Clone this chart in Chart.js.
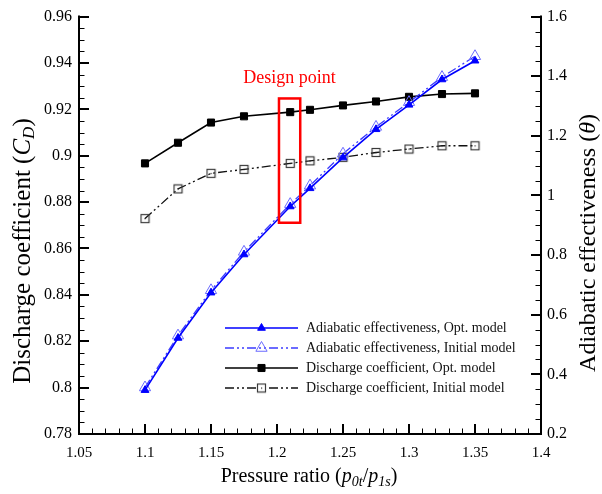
<!DOCTYPE html>
<html>
<head>
<meta charset="utf-8">
<script src="https://cdn.jsdelivr.net/npm/chart.js@4.4.0/dist/chart.umd.min.js"></script>
<style>
  html, body { margin: 0; padding: 0; background: #fff; }
</style>
</head>
<body>
<canvas id="chart" width="602" height="494"></canvas>
<script>
// data
const pressureRatio = [1.1, 1.125, 1.15, 1.175, 1.21, 1.225, 1.25, 1.275, 1.3, 1.325, 1.35];
const effOpt      = [0.347, 0.522, 0.674, 0.802, 0.963, 1.024, 1.127, 1.222, 1.304, 1.389, 1.452];
const effInitial  = [0.356, 0.530, 0.682, 0.811, 0.971, 1.033, 1.140, 1.230, 1.313, 1.397, 1.467];
const cdOpt       = [0.8967, 0.9056, 0.9143, 0.9170, 0.9188, 0.9198, 0.9217, 0.9234, 0.9254, 0.9266, 0.9269];
const cdInitial   = [0.8729, 0.8857, 0.8924, 0.8941, 0.8967, 0.8978, 0.8993, 0.9014, 0.9029, 0.9043, 0.9043];

const xTickValues  = [1.05, 1.1, 1.15, 1.2, 1.25, 1.3, 1.35, 1.4];
const cdTickValues = [0.78, 0.8, 0.82, 0.84, 0.86, 0.88, 0.9, 0.92, 0.94, 0.96];
const effTickValues = [0.2, 0.4, 0.6, 0.8, 1, 1.2, 1.4, 1.6];

const designPoint = { x0: 1.2015, x1: 1.2176, y0: 0.8711, y1: 0.9247, label: 'Design point' };

const SERIF = '"Liberation Serif", "DejaVu Serif", serif';
const dashDotDot = [9, 3, 2, 3, 2, 3];

function fmt(v) { return String(parseFloat(v.toFixed(3))); }
function pts(ys) { return pressureRatio.map((x, i) => ({ x: x, y: ys[i] })); }

// open square with a dot in the middle (Tecplot style)
function openSquare() {
  const c = document.createElement('canvas');
  c.width = 11; c.height = 11;
  const g = c.getContext('2d');
  g.strokeStyle = '#3a3a3a';
  g.lineWidth = 1.2;
  g.strokeRect(1.5, 1.5, 8, 8);
  g.fillStyle = '#222';
  g.fillRect(5, 5, 1.2, 1.2);
  return c;
}
const sqMarker = openSquare();

const datasets = [
  {
    label: 'Adiabatic effectiveness, Opt. model',
    data: pts(effOpt), yAxisID: 'y1',
    borderColor: '#0000ff', borderWidth: 1.6,
    pointStyle: 'triangle', pointRadius: 4.5,
    pointBackgroundColor: '#0000ff', pointBorderColor: '#0000ff', pointBorderWidth: 1
  },
  {
    label: 'Adiabatic effectiveness, Initial model',
    data: pts(effInitial), yAxisID: 'y1',
    borderColor: '#3b3bff', borderWidth: 1.3, borderDash: dashDotDot,
    pointStyle: 'triangle', pointRadius: 6.5,
    pointBackgroundColor: 'rgba(0,0,0,0)', pointBorderColor: '#6b6bff', pointBorderWidth: 1
  },
  {
    label: 'Discharge coefficient, Opt. model',
    data: pts(cdOpt), yAxisID: 'y',
    borderColor: '#000', borderWidth: 1.6,
    pointStyle: 'rect', pointRadius: 5,
    pointBackgroundColor: '#000', pointBorderColor: '#000', pointBorderWidth: 1
  },
  {
    label: 'Discharge coefficient, Initial model',
    data: pts(cdInitial), yAxisID: 'y',
    borderColor: '#111', borderWidth: 1.3, borderDash: dashDotDot,
    pointStyle: sqMarker, pointRadius: 5.5
  }
];

// axis lines with inward major and minor ticks
const axesPlugin = {
  id: 'axesFrame',
  afterDatasetsDraw(chart) {
    const { ctx, chartArea: a, scales } = chart;
    ctx.save();
    ctx.strokeStyle = '#000';
    ctx.lineCap = 'square';
    ctx.lineWidth = 2;
    ctx.beginPath();
    ctx.moveTo(a.left, a.top);
    ctx.lineTo(a.left, a.bottom);
    ctx.lineTo(a.right, a.bottom);
    ctx.lineTo(a.right, a.top);
    ctx.stroke();

    function ticks(scale, from, to, step, major, side) {
      const n = Math.round((to - from) / step);
      for (let i = 0; i <= n; i++) {
        const v = from + i * step;
        const isMajor = major.some(m => Math.abs(m - v) < step / 10);
        const len = isMajor ? 9 : 5;
        ctx.lineWidth = isMajor ? 2 : 1;
        const p = Math.round(scale.getPixelForValue(v)) + (isMajor ? 0 : 0.5);
        ctx.beginPath();
        if (side === 'bottom') { ctx.moveTo(p, a.bottom); ctx.lineTo(p, a.bottom - len); }
        if (side === 'left') { ctx.moveTo(a.left, p); ctx.lineTo(a.left + len, p); }
        if (side === 'right') { ctx.moveTo(a.right, p); ctx.lineTo(a.right - len, p); }
        ctx.stroke();
      }
    }
    ticks(scales.x, 1.05, 1.4, 0.01, xTickValues, 'bottom');
    ticks(scales.y, 0.78, 0.96, 0.005, cdTickValues, 'left');
    ticks(scales.y1, 0.2, 1.6, 0.05, effTickValues, 'right');

    // design point box
    const x0 = scales.x.getPixelForValue(designPoint.x0);
    const x1 = scales.x.getPixelForValue(designPoint.x1);
    const y0 = scales.y.getPixelForValue(designPoint.y0);
    const y1 = scales.y.getPixelForValue(designPoint.y1);
    ctx.strokeStyle = '#ff0000';
    ctx.lineWidth = 2.5;
    ctx.strokeRect(x0, y1, x1 - x0, y0 - y1);
    ctx.fillStyle = '#ff0000';
    ctx.font = '18px ' + SERIF;
    ctx.textAlign = 'center';
    ctx.textBaseline = 'alphabetic';
    ctx.fillText(designPoint.label, (x0 + x1) / 2, y1 - 15);
    ctx.restore();
  }
};

// legend drawn inside the plot
const legendPlugin = {
  id: 'innerLegend',
  afterDatasetsDraw(chart) {
    const { ctx } = chart;
    const lx0 = 225, lx1 = 298, tx = 306, top = 328, gap = 20;
    ctx.save();
    chart.data.datasets.forEach((ds, i) => {
      const y = top + i * gap;
      ctx.strokeStyle = ds.borderColor;
      ctx.lineWidth = ds.borderWidth;
      ctx.setLineDash(ds.borderDash || []);
      ctx.beginPath();
      ctx.moveTo(lx0, y);
      ctx.lineTo(lx1, y);
      ctx.stroke();
      ctx.setLineDash([]);
      ctx.fillStyle = ds.pointBackgroundColor || '#fff';
      ctx.strokeStyle = ds.pointBorderColor || '#000';
      ctx.lineWidth = ds.pointBorderWidth || 1;
      if (ds.pointStyle !== sqMarker) {
        Chart.helpers.drawPoint(ctx, { pointStyle: ds.pointStyle, radius: ds.pointRadius, rotation: 0, borderWidth: ctx.lineWidth }, (lx0 + lx1) / 2, y);
      } else {
        ctx.fillStyle = '#fff';
        ctx.fillRect((lx0 + lx1) / 2 - 5, y - 5, 10, 10);
        ctx.drawImage(sqMarker, (lx0 + lx1) / 2 - 5.5, y - 5.5);
      }
      ctx.fillStyle = '#111';
      ctx.font = '14px ' + SERIF;
      ctx.textAlign = 'left';
      ctx.textBaseline = 'middle';
      ctx.fillText(ds.label, tx, y);
    });
    ctx.restore();
  }
};

// axis titles with italic symbols and subscripts
function drawRich(ctx, parts, cx, cy, angle, size) {
  ctx.save();
  ctx.translate(cx, cy);
  ctx.rotate(angle);
  const subSize = Math.round(size * 0.68);
  let total = 0;
  parts.forEach(p => {
    ctx.font = (p.i ? 'italic ' : '') + (p.sub ? subSize : size) + 'px ' + SERIF;
    p.w = ctx.measureText(p.t).width;
    total += p.w;
  });
  let x = -total / 2;
  ctx.fillStyle = '#000';
  ctx.textBaseline = 'middle';
  ctx.textAlign = 'left';
  parts.forEach(p => {
    ctx.font = (p.i ? 'italic ' : '') + (p.sub ? subSize : size) + 'px ' + SERIF;
    ctx.fillText(p.t, x, p.sub ? size * 0.28 : 0);
    x += p.w;
  });
  ctx.restore();
}

const titlesPlugin = {
  id: 'axisTitles',
  afterDraw(chart) {
    const { ctx, chartArea: a } = chart;
    drawRich(ctx, [
      { t: 'Discharge coefficient (' }, { t: 'C', i: true }, { t: 'D', i: true, sub: true }, { t: ')' }
    ], 23, 251, -Math.PI / 2, 25);
    drawRich(ctx, [
      { t: 'Adiabatic effectiveness (' }, { t: 'θ', i: true }, { t: ')' }
    ], 589, 243, -Math.PI / 2, 24);
    drawRich(ctx, [
      { t: 'Pressure ratio (' }, { t: 'p', i: true }, { t: '0t', i: true, sub: true },
      { t: '/' }, { t: 'p', i: true }, { t: '1s', i: true, sub: true }, { t: ')' }
    ], 309, 477, 0, 20);
  }
};

function fixTicks(values) {
  return function (scale) { scale.ticks = values.map(v => ({ value: v })); };
}

new Chart(document.getElementById('chart').getContext('2d'), {
  type: 'line',
  data: { datasets: datasets },
  options: {
    responsive: false,
    animation: false,
    layout: { padding: { top: 14, left: 0, right: 0, bottom: 0 } },
    plugins: { legend: { display: false }, tooltip: { enabled: false } },
    scales: {
      x: {
        type: 'linear', position: 'bottom', min: 1.05, max: 1.4,
        afterBuildTicks: fixTicks(xTickValues),
        afterFit: s => { s.height = 60; },
        grid: { display: false, drawTicks: false }, border: { display: false },
        ticks: { padding: 10, color: '#000', maxRotation: 0, autoSkip: false,
                 font: { family: SERIF, size: 15 }, callback: v => fmt(v) }
      },
      y: {
        type: 'linear', position: 'left', min: 0.78, max: 0.96,
        afterBuildTicks: fixTicks(cdTickValues),
        afterFit: s => { s.width = 79; },
        grid: { display: false, drawTicks: false }, border: { display: false },
        ticks: { padding: 7, color: '#000', font: { family: SERIF, size: 16 }, callback: v => fmt(v) }
      },
      y1: {
        type: 'linear', position: 'right', min: 0.2, max: 1.6,
        afterBuildTicks: fixTicks(effTickValues),
        afterFit: s => { s.width = 61; },
        grid: { display: false, drawTicks: false }, border: { display: false },
        ticks: { padding: 6, color: '#000', font: { family: SERIF, size: 16 }, callback: v => fmt(v) }
      }
    }
  },
  plugins: [axesPlugin, legendPlugin, titlesPlugin]
});
</script>
</body>
</html>
